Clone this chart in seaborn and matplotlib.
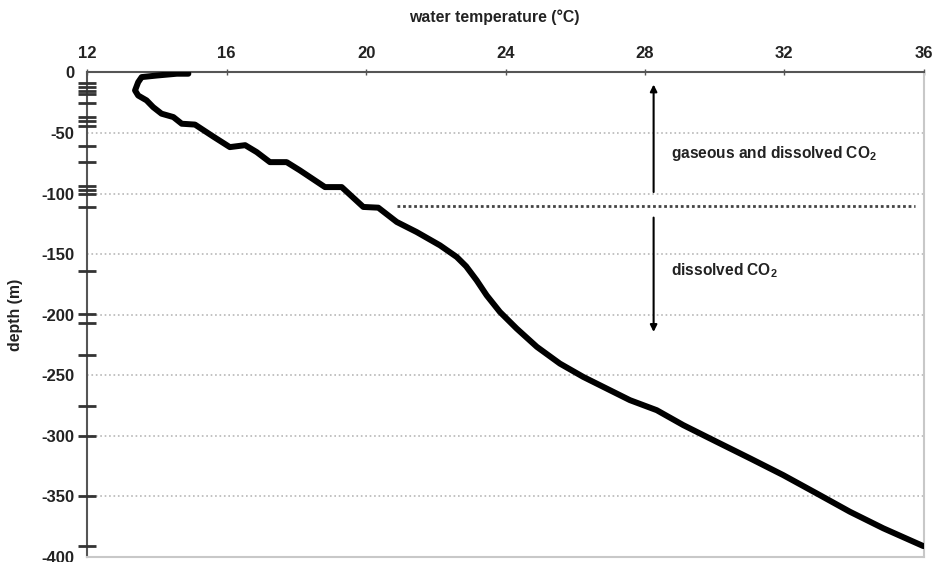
import numpy as np
import pandas as pd
import matplotlib
matplotlib.use('Agg')
import matplotlib.pyplot as plt
import seaborn as sns

# temperature profile
temp = [14.90, 14.57, 13.99, 13.56, 13.46, 13.37, 13.46, 13.70, 13.89, 14.13,
        14.47, 14.71, 15.09, 15.62, 16.09, 16.53, 16.86, 17.24, 17.72, 18.10,
        18.82, 19.30, 19.92, 20.35, 20.88, 21.45, 22.12, 22.60, 22.87, 23.17,
        23.46, 23.84, 24.32, 24.90, 25.56, 26.23, 26.90, 27.57, 28.34, 29.10,
        30.06, 31.02, 31.97, 32.93, 33.88, 34.84, 35.99]
depth = [-1, -1, -2.5, -3.8, -8, -14.8, -19, -23, -28.6, -34,
         -36.8, -42.3, -43, -53, -61.6, -60, -65.7, -74, -74, -80.8,
         -94.6, -94.6, -111, -111.6, -123.4, -131.7, -142.7, -152.3, -160, -171.5,
         -184, -197.7, -211.4, -226.5, -240.3, -251.3, -260.9, -270.5, -278.8, -291.1,
         -304.9, -318.6, -332.4, -347.5, -362.6, -376.3, -391]

# extra depth marks on the left axis
mark_depths = [-9, -12, -15, -18, -25, -37, -40, -44, -61, -74, -94, -97, -100,
               -111, -164, -199, -207, -233, -275, -300, -350, -391]

x_ticks = [12, 16, 20, 24, 28, 32, 36]
y_ticks = [0, -50, -100, -150, -200, -250, -300, -350, -400]

boundary_depth = -110
boundary_x = [20.88, 35.75]

sns.set_style('white')
plt.rcParams['font.family'] = ['Liberation Sans', 'DejaVu Sans']
plt.rcParams['axes.unicode_minus'] = False
plt.rcParams['mathtext.fontset'] = 'custom'
plt.rcParams['mathtext.rm'] = 'Liberation Sans'
plt.rcParams['mathtext.bf'] = 'Liberation Sans:bold'

fig = plt.figure(figsize=(9.35, 5.62), dpi=100)
ax = fig.add_axes([87.3 / 935, 5 / 562, 836.4 / 935, 484.5 / 562])

df = pd.DataFrame({'temp': temp, 'depth': depth})
sns.lineplot(data=df, x='temp', y='depth', sort=False, estimator=None,
             color='black', linewidth=4.3, ax=ax, zorder=5)

# sampling marks across the left spine
sns.scatterplot(x=[12] * len(mark_depths), y=mark_depths, marker='_', s=150,
                linewidth=2, color='#333333', ax=ax, clip_on=False, zorder=6)

# boundary line between the two zones
ax.plot(boundary_x, [boundary_depth, boundary_depth], color='#444444',
        linestyle=(0, (1, 1)), linewidth=2)

ax.annotate('', xy=(28.25, -7.6), xytext=(28.25, -101),
            arrowprops=dict(arrowstyle='-|>', color='black', lw=1.5, mutation_scale=10))
ax.annotate('', xy=(28.25, -216.5), xytext=(28.25, -117.5),
            arrowprops=dict(arrowstyle='-|>', color='black', lw=1.5, mutation_scale=10))
ax.text(28.75, -66.7, r'gaseous and dissolved CO$_\mathbf{2}$', fontsize=11.2,
        fontweight='bold', color='#222222', va='center', ha='left')
ax.text(28.75, -164, r'dissolved CO$_\mathbf{2}$', fontsize=11.2,
        fontweight='bold', color='#222222', va='center', ha='left')

ax.set_xlim(12, 36)
ax.set_ylim(-400, 0)
ax.xaxis.tick_top()
ax.set_xticks(x_ticks)
ax.set_yticks(y_ticks)
ax.tick_params(axis='x', direction='inout', length=4, width=1, colors='#555555',
               labelcolor='#222222', labelsize=12, pad=6)
ax.tick_params(axis='y', direction='inout', length=5, width=1, colors='#555555',
               labelcolor='#222222', labelsize=12, pad=7)
for lab in ax.get_xticklabels() + ax.get_yticklabels():
    lab.set_fontweight('bold')

ax.yaxis.grid(True, linestyle=':', color='#b8b8b8', linewidth=1.2)
ax.xaxis.grid(False)

ax.set_xlabel('water temperature (°C)', fontsize=11.4, fontweight='bold', color='#222222')
ax.xaxis.set_label_position('top')
ax.xaxis.set_label_coords((494 - 87.3) / 836.4, 1.105)
ax.set_ylabel('depth (m)', fontsize=11.4, fontweight='bold', color='#222222')
ax.yaxis.set_label_coords(-0.077, 0.50)

for side in ['top', 'left']:
    ax.spines[side].set_color('#555555')
    ax.spines[side].set_linewidth(1.5)
for side in ['right', 'bottom']:
    ax.spines[side].set_color('#c8c8c8')
    ax.spines[side].set_linewidth(1.5)

fig.savefig('out.png', dpi=100)
